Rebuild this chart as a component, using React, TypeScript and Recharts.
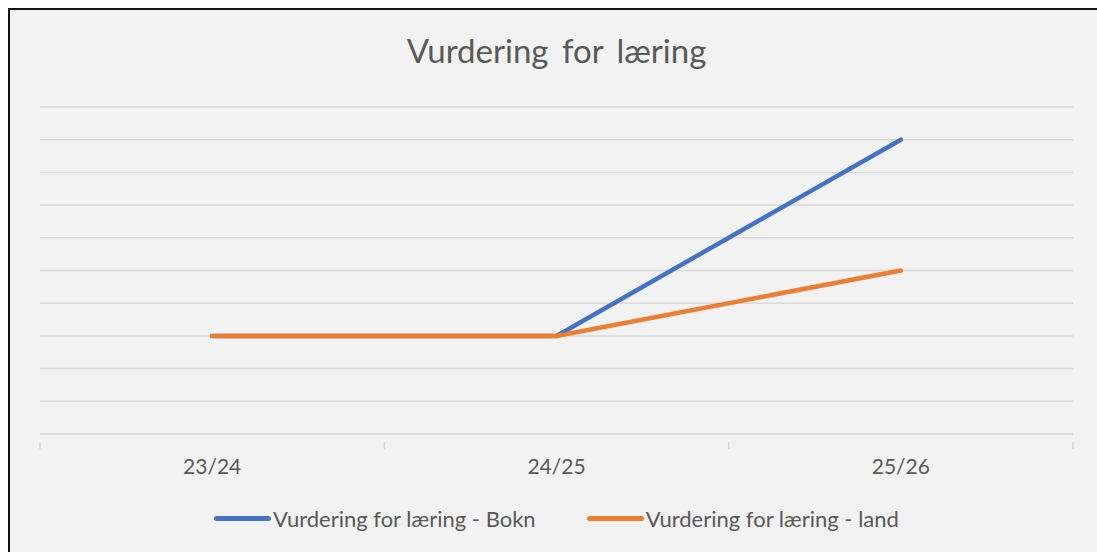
import React from "react";
import { LineChart, Line, XAxis, YAxis, CartesianGrid, Legend } from "recharts";

const years = ["23/24", "24/25", "25/26"];
const bokn = [3, 3, 9];
const land = [3, 3, 5];
const yTicks = [0, 1, 2, 3, 4, 5, 6, 7, 8, 9, 10];

const seriesNames = ["Vurdering for læring - Bokn", "Vurdering for læring - land"];
const colors = ["#4472c4", "#ed7d31"];

const data = years.map((year, i) => ({ year, bokn: bokn[i], land: land[i] }));

const W = 1087;
const H = 542;
const margin = { top: 97, left: 30, right: 24, bottom: 10 };
const band = (W - margin.left - margin.right) / years.length;
const font = "Lato, 'Open Sans', sans-serif";

// label in the middle of each category, tick marks on the category edges
function YearTick(props: any) {
  const { x, y, payload, index } = props;
  const half = band / 2;
  return (
    <g>
      <line x1={x - half} x2={x - half} y1={y} y2={y + 7} stroke="#d9d9d9" strokeWidth={1.5} />
      {index === years.length - 1 && (
        <line x1={x + half} x2={x + half} y1={y} y2={y + 7} stroke="#d9d9d9" strokeWidth={1.5} />
      )}
      <text x={x} y={y + 32} textAnchor="middle" fill="#595959" fontSize={21} fontFamily={font}>
        {payload.value}
      </text>
    </g>
  );
}

function LegendContent() {
  return (
    <div
      style={{
        display: "flex",
        justifyContent: "center",
        alignItems: "center",
        height: 48,
        gap: 51,
        fontFamily: font,
        fontSize: 22,
        color: "#595959",
      }}
    >
      {seriesNames.map((name, i) => (
        <div key={name} style={{ display: "flex", alignItems: "center" }}>
          <span
            style={{
              display: "inline-block",
              width: 57,
              height: 5,
              borderRadius: 3,
              background: colors[i],
              marginRight: 2,
            }}
          />
          <span>{name}</span>
        </div>
      ))}
    </div>
  );
}

export default function App() {
  return (
    <div
      style={{
        position: "fixed",
        top: 8,
        left: 8,
        right: -20,
        bottom: -20,
        background: "#f2f2f2",
        borderTop: "2px solid #111",
        borderLeft: "2px solid #111",
        overflow: "hidden",
      }}
    >
      <div
        style={{
          position: "absolute",
          top: 20,
          left: margin.left,
          width: W - margin.left - margin.right,
          textAlign: "center",
          fontFamily: font,
          fontSize: 33,
          color: "#595959",
          wordSpacing: 5,
        }}
      >
        Vurdering for læring
      </div>
      <LineChart width={W} height={H} data={data} margin={margin}>
        <CartesianGrid vertical={false} stroke="#d9d9d9" strokeWidth={1.5} />
        <XAxis
          dataKey="year"
          padding={{ left: band / 2, right: band / 2 }}
          axisLine={{ stroke: "#d9d9d9", strokeWidth: 1.5 }}
          tickLine={false}
          tick={<YearTick />}
          height={60}
          interval={0}
        />
        <YAxis hide domain={[0, 10]} ticks={yTicks} />
        <Legend verticalAlign="bottom" content={<LegendContent />} />
        <Line
          dataKey="bokn"
          name={seriesNames[0]}
          stroke={colors[0]}
          strokeWidth={4.5}
          strokeLinecap="round"
          dot={false}
          isAnimationActive={false}
        />
        <Line
          dataKey="land"
          name={seriesNames[1]}
          stroke={colors[1]}
          strokeWidth={4.5}
          strokeLinecap="round"
          dot={false}
          isAnimationActive={false}
        />
      </LineChart>
    </div>
  );
}
